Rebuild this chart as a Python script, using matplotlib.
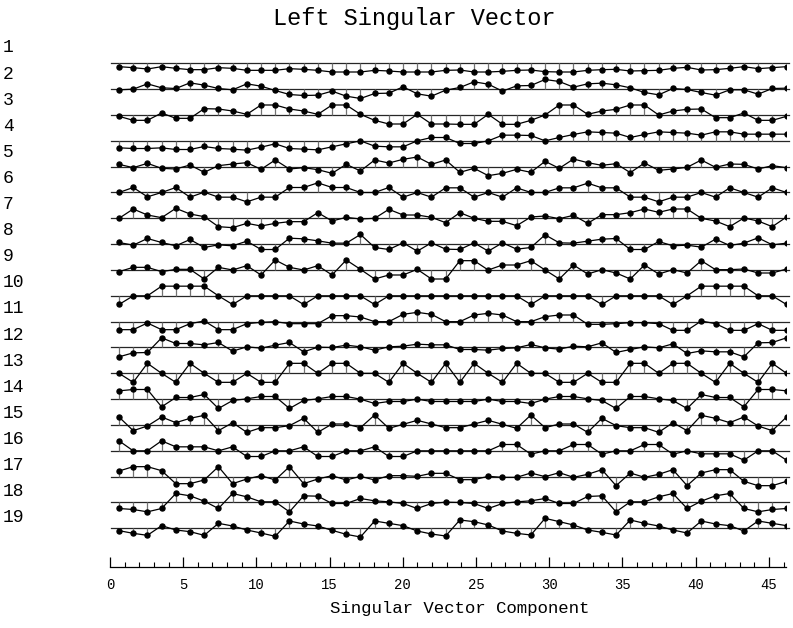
import numpy as np
import matplotlib.pyplot as plt

# components of the 19 left singular vectors (x100), 48 components each
v01 = [-10, -13, -17, -10, -15, -19, -19, -13, -15, -21,
       -21, -21, -16, -18, -21, -26, -26, -26, -21, -23,
       -26, -26, -26, -21,
       -20, -26, -26, -24, -21, -20, -25, -26, -26, -21,
       -19, -18, -23, -22, -21, -15, -12, -20, -19, -15,
       -10, -16, -13, -10]
v02 = [-2, 0, 16, 4, 2, 19, 12, 2, -2, 16,
       9, -4, -16, -19, -18, -6, -21, -28, -13, -12,
       7, -14, -21, -3,
       5, 22, 15, -6, 10, 11, 29, 23, 6, 16,
       18, 13, 4, -10, -17, 2, -1, -10, -18, -2,
       -2, -15, 2, 3]
v03 = [-4, -16, -16, 6, -10, -10, 19, 18, 12, 2,
       30, 30, 18, 12, 2, 30, 30, 2, -16, -27,
       -27, 2, -27, -27,
       -28, -28, 2, -28, -28, -16, 0, 30, 30, 2,
       12, 17, 30, 30, 0, 12, 17, 18, -8, -8,
       6, -16, -16, -4]
v04 = [-21, -23, -23, -21, -26, -26, -17, -23, -25, -28,
       -19, -9, -23, -25, -27, -18, -9, 0, -16, -18,
       -18, 0, 10, 10,
       -8, -8, 0, 17, 17, 16, 0, 10, 19, 27,
       25, 23, 10, 19, 27, 25, 23, 17, 27, 27,
       20, 20, 20, 20]
v05 = [7, -3, 10, -5, -7, 5, -17, 3, 8, 12,
       -8, 20, -7, -3, -9, -20, 7, -13, 20, 11,
       22, 29, 7, 20,
       -17, -5, -27, -20, -8, -17, 16, -5, 23, 12,
       4, 9, -18, 11, -11, -7, -2, 20, -2, 8,
       7, -7, 3, -3]
v06 = [0, 15, -13, 0, 15, -14, 1, -14, -14, -28,
       -14, -14, 15, 15, 29, 15, 15, 0, 0, 15,
       -14, 0, -14, 14,
       14, -14, 0, -14, 14, 0, 0, 14, 14, 28,
       14, 14, -14, -14, -28, -14, -14, 0, -14, 14,
       0, -14, 14, 0]
v07 = [0, 28, 10, 2, 30, 13, 5, -25, -28, -15,
       -23, -15, -10, -10, 17, -8, 3, -2, 0, 27,
       10, 10, 3, -13,
       17, 0, -9, -9, -22, 4, 7, -1, 9, -15,
       11, 11, 17, 28, 18, 28, 28, 0, -8, -25,
       1, -8, -25, 4]
v08 = [5, -3, 17, 5, -5, 14, -10, -2, -5, 9,
       -16, -16, 18, 16, 10, 3, 3, 29, -10, -16,
       4, -21, 4, -15,
       -16, 4, -21, 4, -15, -10, 28, 4, 3, 9,
       15, 17, -16, -16, 8, -5, -3, -9, 15, -4,
       3, 19, -2, 3]
v09 = [-5, 8, 8, -5, 2, 2, -27, 8, 0, 13,
       -15, 30, 8, 0, 13, -15, 30, 2, -27, -15,
       -15, 2, -27, -27,
       28, 28, 0, 15, 15, 28, 0, -27, 15, -12,
       1, -9, -27, 15, -12, 1, -9, 28, 1, 1,
       3, -9, -9, 3]
v10 = [-26, 0, 0, 29, 29, 29, 29, 0, -26, 0,
       0, 0, 0, -26, 0, 0, 0, 0, -26, 0,
       0, 0, 0, 0,
       0, 0, 0, 0, 0, -26, 0, 0, 0, 0,
       -26, 0, 0, 0, 0, -26, 0, 29, 29, 29,
       29, 0, 0, -26]
v11 = [-24, -24, -4, -24, -24, -6, 2, -24, -24, -6,
       -2, 0, -6, -6, -6, 18, 18, 14, 0, 0,
       22, 28, 22, 0,
       0, 20, 25, 20, 0, 0, 15, 20, 20, -8,
       -8, -6, -3, -3, -6, -26, -26, 2, -6, -26,
       -26, -6, -26, -26]
v12 = [-28, -16, -15, 29, 12, 12, 8, 15, -11, 2,
       -2, 7, 15, -13, 1, 0, 7, 2, -8, 2,
       4, 10, 8, 8,
       -6, -6, -8, -3, -1, 9, -1, -5, 4, 2,
       14, -15, -6, 2, -1, 11, -18, -10, -13, -13,
       -28, 14, 15, 29]
v13 = [0, -27, 30, 0, -27, 30, 0, -27, -27, 0,
       -27, -27, 30, 30, 0, 30, 30, 0, 0, -27,
       30, 0, -27, 30,
       -27, 30, 0, -27, 30, 0, 0, -27, -27, 0,
       -27, -27, 30, 30, 0, 30, 30, 0, -27, 30,
       0, -27, 30, 0]
v14 = [25, 29, 29, -23, 5, 5, 14, -28, -4, 1,
       8, 8, -28, -4, 1, 8, 8, 0, -13, -7,
       -7, 0, -7, -7,
       -7, -7, 0, -7, -7, -13, 0, 8, 8, 1,
       -4, -28, 8, 8, 1, -4, -28, 14, 5, 5,
       -23, 29, 29, 25]
v15 = [24, -17, -3, 24, 7, 20, 29, -17, 7, -22,
       -8, -8, -2, 20, -22, 3, 3, -8, 30, -10,
       2, 14, 3, -8,
       -8, 3, 14, 2, -10, 30, -8, 3, 3, -22,
       20, -2, -8, -8, -22, 7, -17, 29, 20, 7,
       24, -3, -17, 24]
v16 = [30, 0, 0, 30, 12, 12, 12, 0, 12, -17,
       -17, 0, 0, 12, -17, -17, 0, 0, 12, -17,
       -17, 0, 0, 0,
       0, 0, 0, 19, 19, -10, 0, 0, 19, 19,
       -10, 0, 0, 19, 19, -10, 0, -9, -9, -9,
       -28, 0, 0, -28]
v17 = [17, 30, 30, 18, -21, -21, -10, 30, -21, -7,
       3, -10, 30, -21, -7, 3, -10, 1, -10, 3,
       3, 1, 10, 10,
       -9, -9, 1, -2, -2, 11, 0, 12, -2, 7,
       21, -27, 11, -2, 7, 21, -27, 11, 21, 21,
       -14, -27, -27, -14]
v18 = [-18, -21, -28, -18, 27, 20, 4, -18, 27, 17,
       2, 2, -28, 20, 19, -3, -3, 12, 5, 2,
       -3, -18, -3, 1,
       0, -3, -18, -3, 2, 5, 12, -3, -3, 18,
       20, -28, 2, 2, 17, 27, -18, 4, 20, 27,
       -18, -28, -21, -18]
v19 = [-7, -15, -21, 8, -5, -10, -21, 15, 7, -5,
       -14, -24, 22, 13, 7, -6, -18, -26, 22, 15,
       8, -8, -17, -23,
       25, 20, 10, -8, -15, -20, 30, 20, 10, -5,
       -12, -20, 25, 15, 7, -5, -14, 22, 13, 8,
       -8, 22, 15, 8]

vectors = [v01, v02, v03, v04, v05, v06, v07, v08, v09, v10,
           v11, v12, v13, v14, v15, v16, v17, v18, v19]
row_labels = [str(i + 1) for i in range(len(vectors))]

plt.rcParams['font.family'] = 'Liberation Mono'

W, H = 793, 628
fig = plt.figure(figsize=(W / 100, H / 100), dpi=100)
ax = fig.add_axes([110 / W, (H - 567) / H, (786 - 110) / W, (567 - 40) / H])

# components sit slightly inside the tick scale
comp = np.arange(len(v01))
xpos = 0.615 + 0.97 * comp
step = 0.775  # vertical spacing between vectors

for k, vec in enumerate(vectors):
    base = -k * step
    vals = base + np.array(vec) / 100.0
    ax.plot([0.1, 46.4], [base, base], color='0.15', lw=0.9, clip_on=False)
    ax.vlines(xpos, base, vals, color='0.45', lw=0.9)
    ax.plot(xpos, vals, color='black', lw=0.9, marker='o', ms=3.6,
            mfc='black', mec='black')

ax.set_xlim(0, 46.17)
ax.set_ylim(-18 * step - 1.16, 0.70)

for s in ['top', 'left', 'right']:
    ax.spines[s].set_visible(False)
ax.spines['bottom'].set_linewidth(0.9)
ax.set_yticks([])
ax.set_xticks(np.arange(0, 46, 5))
ax.set_xticks(np.arange(0, 47, 1), minor=True)
ax.tick_params(axis='x', which='major', direction='in', length=7, width=0.9,
               labelsize=10, pad=8)
ax.tick_params(axis='x', which='minor', direction='in', length=3.5, width=0.8)

for k, lab in enumerate(row_labels):
    fig.text(3 / W, 1 - (48 + 26.1 * k) / H, lab, fontsize=13,
             ha='left', va='center')

fig.text(414 / W, 1 - 18 / H, 'Left Singular Vector', fontsize=17,
         ha='center', va='center')
fig.text(460 / W, 1 - 608 / H, 'Singular Vector Component', fontsize=12.5,
         ha='center', va='center')

fig.savefig('out.png', dpi=100)
